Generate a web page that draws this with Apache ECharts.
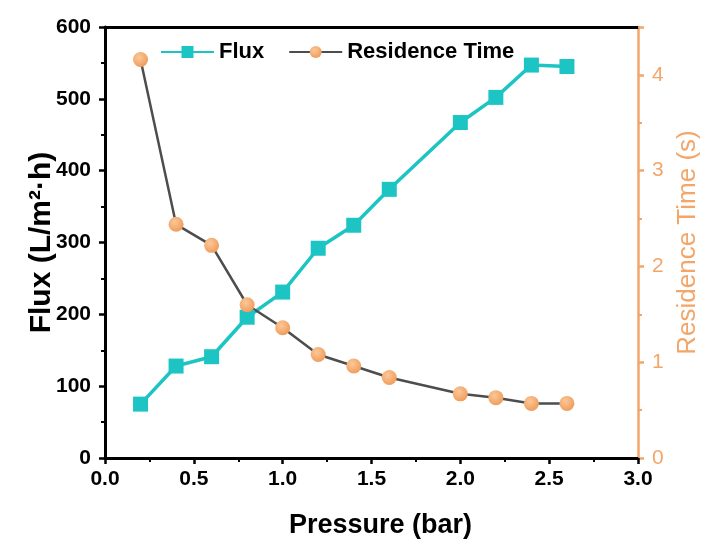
<!DOCTYPE html>
<html>
<head>
<meta charset="UTF-8">
<title>Flux and residence time</title>
<script type="text/javascript" src="https://cdn.jsdelivr.net/npm/echarts@6/dist/echarts.min.js"></script>
<style>
  html, body { margin: 0; padding: 0; background: #fff; }
</style>
</head>
<body>
<div id="main" style="width: 703px; height: 545px"></div>
<script type="text/javascript">
// pressure (bar)
var pressure = [0.2, 0.4, 0.6, 0.8, 1.0, 1.2, 1.4, 1.6, 2.0, 2.2, 2.4, 2.6];
// flux (L/m2.h)
var flux = [75, 128, 141, 196, 231, 292, 324, 374, 467, 502, 547, 545];
// residence time (s)
var residence = [4.16, 2.44, 2.22, 1.60, 1.36, 1.08, 0.96, 0.84, 0.67, 0.63, 0.57, 0.57];

var FONT = 'Liberation Sans, Arial, sans-serif';
var TEAL = '#1cc5c3';
var ORANGE = '#f2a66a';

function pairs(xs, ys) {
  var out = [];
  for (var i = 0; i < xs.length; i++) out.push([xs[i], ys[i]]);
  return out;
}

var myChart = echarts.init(document.getElementById('main'), null, {renderer: 'canvas'});

var option = {
  animation: false,
  backgroundColor: '#fff',
  grid: { left: 105, right: 65, top: 27, bottom: 87, outerBoundsMode: 'none', containLabel: false },
  legend: {
    left: 155, top: 36,
    itemWidth: 53, itemHeight: 15, itemGap: 24,
    textStyle: { fontFamily: FONT, fontWeight: 'bold', fontSize: 22, color: '#000' },
    data: ['Flux', 'Residence Time']
  },
  xAxis: [{
    type: 'value', min: 0, max: 3, interval: 0.5,
    name: 'Pressure (bar)', nameLocation: 'middle', nameGap: 54,
    nameTextStyle: { fontFamily: FONT, fontWeight: 'bold', fontSize: 27, color: '#000', padding: [0, 0, 0, 18] },
    axisLine: { onZero: false, lineStyle: { color: '#000', width: 3 } },
    axisTick: { length: 6, lineStyle: { color: '#000', width: 2.5 } },
    minorTick: { show: true, splitNumber: 2, length: 4, lineStyle: { color: '#000', width: 2 } },
    splitLine: { show: false },
    axisLabel: {
      fontFamily: FONT, fontWeight: 'bold', fontSize: 21, color: '#000', margin: 11,
      formatter: function (v) { return v.toFixed(1); }
    }
  }, {
    type: 'value', min: 0, max: 3, position: 'top',
    axisLine: { show: true, onZero: false, lineStyle: { color: '#000', width: 3 } },
    axisTick: { show: false }, axisLabel: { show: false }, splitLine: { show: false }
  }],
  yAxis: [{
    type: 'value', min: 0, max: 600, interval: 100, position: 'left',
    name: 'Flux (L/m\u00b2\u00b7h)', nameLocation: 'middle', nameGap: 48, nameRotate: 90,
    nameMoveOverlap: false,
    nameTextStyle: { fontFamily: FONT, fontWeight: 'bold', fontSize: 30, color: '#000' },
    axisLine: { show: true, onZero: false, lineStyle: { color: '#000', width: 3 } },
    axisTick: { length: 6, lineStyle: { color: '#000', width: 2.5 } },
    minorTick: { show: true, splitNumber: 2, length: 4, lineStyle: { color: '#000', width: 2 } },
    splitLine: { show: false },
    axisLabel: { fontFamily: FONT, fontWeight: 'bold', fontSize: 21, color: '#000', margin: 14 }
  }, {
    type: 'value', min: 0, max: 4.5, interval: 1, position: 'right',
    alignTicks: false,
    name: 'Residence Time (s)', nameLocation: 'middle', nameGap: 36, nameRotate: 90,
    nameTextStyle: { fontFamily: FONT, fontSize: 26, color: ORANGE },
    axisLine: { show: true, onZero: false, lineStyle: { color: ORANGE, width: 2.5 } },
    axisTick: { length: 6, lineStyle: { color: ORANGE, width: 2.5 } },
    minorTick: { show: true, splitNumber: 2, length: 4, lineStyle: { color: ORANGE, width: 2 } },
    splitLine: { show: false },
    axisLabel: {
      fontFamily: FONT, fontSize: 21, color: ORANGE, margin: 14,
      formatter: function (v) { return v > 4 ? '' : String(v); }
    }
  }],
  series: [{
    name: 'Flux', type: 'line', xAxisIndex: 0, yAxisIndex: 0,
    data: pairs(pressure, flux),
    symbol: 'rect', symbolSize: 15,
    lineStyle: { color: TEAL, width: 3.5 },
    itemStyle: { color: TEAL }
  }, {
    name: 'Residence Time', type: 'line', xAxisIndex: 0, yAxisIndex: 1,
    data: pairs(pressure, residence),
    symbol: 'circle', symbolSize: 15,
    lineStyle: { color: '#4d4d4d', width: 2.5 },
    itemStyle: {
      color: new echarts.graphic.RadialGradient(0.4, 0.35, 0.7, [
        { offset: 0, color: '#fbc898' },
        { offset: 1, color: '#ee9a58' }
      ])
    }
  }]
};

myChart.setOption(option);
</script>
</body>
</html>
